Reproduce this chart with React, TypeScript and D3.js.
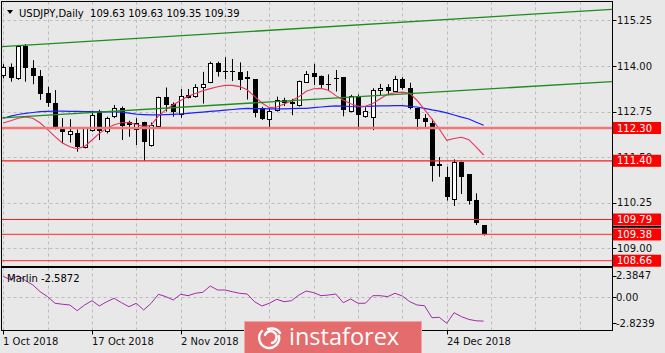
import React from "react";
import * as d3 from "d3";

// ---------- data ----------
const opens = [113.73,113.96,113.66,114.55,113.94,113.73,113.25,112.98,112.29,112.15,112.17,111.77,112.24,112.77,112.20,112.61,112.84,112.46,112.26,112.46,111.83,112.35,113.16,112.95,112.70,113.20,113.19,113.43,113.55,114.07,113.87,113.87,113.83,113.69,113.64,112.85,112.54,112.79,113.07,113.00,112.93,113.57,113.80,113.73,113.50,113.68,113.69,112.79,113.19,112.62,112.61,113.34,113.42,113.30,113.64,113.39,112.84,112.57,112.45,111.30,110.96,110.37,111.38,111.03,110.32,109.63];
const highs = [114.05,114.07,114.58,114.60,114.16,113.89,113.43,113.34,112.57,112.54,112.26,112.32,112.75,112.80,112.61,112.93,112.89,112.50,112.57,112.47,112.45,113.16,113.41,113.00,113.37,113.37,113.50,113.84,114.12,114.12,114.24,114.19,114.10,113.86,113.64,112.88,112.84,113.16,113.13,113.10,113.60,113.86,114.06,113.74,113.77,113.89,113.69,113.21,113.22,112.87,113.39,113.51,113.50,113.73,113.69,113.54,112.86,112.68,112.55,111.50,111.24,111.44,111.38,111.03,110.51,109.63];
const lows = [113.66,113.57,113.62,113.57,113.50,113.07,112.88,112.26,111.88,111.90,111.65,111.74,112.20,111.97,112.15,112.57,111.97,112.06,111.83,111.40,111.79,112.33,112.75,112.61,112.58,113.11,113.13,112.97,113.53,113.71,113.64,113.59,113.34,113.08,112.59,112.52,112.32,112.75,112.90,112.65,112.89,113.57,113.48,113.40,113.31,113.30,112.62,112.73,112.26,112.58,112.24,113.20,113.20,113.30,113.35,112.81,112.26,112.29,110.83,110.96,110.31,110.16,110.49,110.20,109.64,109.35];
const closes = [113.96,113.66,114.55,113.94,113.71,113.25,112.98,112.29,112.17,112.22,111.79,112.29,112.66,112.23,112.57,112.84,112.34,112.39,112.43,111.90,112.38,113.14,112.93,112.72,113.19,113.13,113.43,113.52,114.07,113.83,113.83,113.83,113.62,113.64,112.70,112.56,112.77,113.07,112.98,112.95,113.59,113.79,113.68,113.49,113.48,113.64,112.79,113.19,112.68,112.77,113.35,113.39,113.30,113.63,113.39,112.84,112.53,112.47,111.28,111.24,110.40,111.38,110.98,110.28,109.69,109.39];
const maFast = [112.437,112.497,112.566,112.601,112.566,112.437,112.256,112.061,111.888,111.787,111.732,111.795,111.970,112.151,112.289,112.390,112.445,112.442,112.398,112.338,112.374,112.634,112.804,112.936,113.054,113.169,113.246,113.320,113.380,113.430,113.468,113.468,113.435,113.347,113.169,112.985,112.859,112.875,112.961,113.048,113.155,113.309,113.375,113.386,113.334,113.188,113.070,112.966,112.895,112.895,112.974,113.103,113.227,113.268,113.284,113.251,113.054,112.804,112.541,112.272,111.962,112.012,112.047,111.981,111.773,111.559];
const maSlow = [112.566,112.626,112.670,112.703,112.725,112.747,112.758,112.766,112.763,112.758,112.755,112.749,112.747,112.744,112.741,112.741,112.736,112.705,112.678,112.667,112.659,112.659,112.667,112.675,112.686,112.703,112.719,112.736,112.755,112.771,112.790,112.807,112.826,112.837,112.832,112.829,112.823,112.823,112.826,112.832,112.837,112.840,112.859,112.875,112.895,112.908,112.900,112.889,112.875,112.889,112.900,112.906,112.908,112.911,112.911,112.895,112.875,112.840,112.799,112.763,112.714,112.656,112.598,112.546,112.459,112.374];
const marlin = [2.3,1.95,2.3847,1.85,1.37,0.63,0.09,-0.63,-0.74,-0.82,-1.44,-0.82,-0.35,-0.93,-0.46,-0.09,-0.57,-1.01,-0.63,-1.37,-0.63,0.35,0.09,-0.27,0.35,0.2,0.46,0.57,1.26,0.82,0.82,0.63,0.46,0.38,-0.46,-0.93,-0.63,-0.2,-0.46,-0.35,0.27,0.71,0.53,0.2,0.27,0.38,-0.57,-0.16,-0.63,-0.63,0.2,0.2,0.09,0.46,0.16,-0.46,-0.82,-0.9,-2.21,-2.17,-2.8239,-1.66,-2.1,-2.4,-2.55,-2.5872];

const priceTicks = [115.25, 114.0, 112.75, 111.5, 110.25, 109.0];
const marlinTicks = [2.3847, 0, -2.8239];
const dateTickIdx = [0, 12, 24, 60];
const dateTickLabels = ["1 Oct 2018", "17 Oct 2018", "2 Nov 2018", "24 Dec 2018"];
const hiddenTickIdx = [36, 48];
const levels = [112.3, 111.4, 109.79, 109.38, 108.66];
const channelUpperIdx = [0, 82];
const channelUpperPx = [114.532, 115.55];
const channelLowerIdx = [0, 82];
const channelLowerPx = [112.579, 113.569];
const titleText = "USDJPY,Daily  109.63 109.63 109.35 109.39";
const marlinTitle = "Marlin -2.5872";
const bannerText = "instaforex";

// ---------- layout ----------
const W = 665, H = 353;
const L = 1.5, R = 612.5, MT = 1.5, MB = 266.5, ST = 267.5, SB = 330.5;
const FONT = "'DejaVu Sans', Verdana, sans-serif";

const x = d3.scaleLinear().domain([0, 60]).range([3.3, 446.7]);
const y = d3.scaleLinear().domain([109, 114]).range([248.3, 66]);
const ys = d3.scaleLinear().domain([-2.8239, 2.3847]).range([323.3, 275.7]);

const levelStyles = [
  { c: "#f07878", w: 2.6 },
  { c: "#ff1a1a", w: 1.2 },
  { c: "#ff1a1a", w: 1.2 },
  { c: "#ff4d4d", w: 1.2 },
  { c: "#ff4d4d", w: 1.2 },
];

export default function App() {
  const lineMain = d3.line<number>().x((_, i) => x(i)).y((d) => y(d));
  const lineSub = d3.line<number>().x((_, i) => x(i)).y((d) => ys(d));
  const gridIdx = d3.range(0, 84, 6);

  const chan = (idx: number[], px: number[]) => {
    const s = d3.scaleLinear().domain(idx).range(px);
    const a = -2, b = 84;
    return { x1: x(a), y1: y(s(a)), x2: x(b), y2: y(s(b)) };
  };
  const up = chan(channelUpperIdx, channelUpperPx);
  const lo = chan(channelLowerIdx, channelLowerPx);

  return (
    <svg width={W} height={H} style={{ position: "fixed", left: 0, top: 0 }} fontFamily={FONT}>
      <defs>
        <clipPath id="mainClip"><rect x={L + 0.5} y={MT + 0.5} width={R - L - 1} height={MB - MT - 1} /></clipPath>
        <clipPath id="subClip"><rect x={L + 0.5} y={ST + 0.5} width={R - L - 1} height={SB - ST - 1} /></clipPath>
      </defs>
      <rect x={0} y={0} width={W} height={H} fill="#e8e8e8" />

      {/* grid main */}
      <g stroke="#bcbcbc" strokeDasharray="3,3" strokeWidth={1} clipPath="url(#mainClip)">
        {gridIdx.map((i) => (
          <line key={"gv" + i} x1={Math.round(x(i)) + 0.5} x2={Math.round(x(i)) + 0.5} y1={MT} y2={MB} />
        ))}
        {priceTicks.map((p) => (
          <line key={"gh" + p} x1={L} x2={R} y1={Math.round(y(p)) + 0.5} y2={Math.round(y(p)) + 0.5} />
        ))}
      </g>
      {/* grid sub */}
      <g stroke="#bcbcbc" strokeDasharray="3,3" strokeWidth={1} clipPath="url(#subClip)">
        {gridIdx.map((i) => (
          <line key={"sv" + i} x1={Math.round(x(i)) + 0.5} x2={Math.round(x(i)) + 0.5} y1={ST} y2={SB} />
        ))}
        <line x1={L} x2={R} y1={Math.round(ys(0)) + 0.5} y2={Math.round(ys(0)) + 0.5} />
      </g>

      {/* candles */}
      <g clipPath="url(#mainClip)">
        {opens.map((o, i) => {
          const c = closes[i];
          const cx = Math.round(x(i)) + 0.5;
          const top = y(Math.max(o, c));
          const bot = y(Math.min(o, c));
          const bull = c > o;
          return (
            <g key={"c" + i}>
              <line x1={cx} x2={cx} y1={y(highs[i])} y2={y(lows[i])} stroke="#000" strokeWidth={1} />
              {bull ? (
                <rect x={cx - 2} y={Math.round(top) + 0.5} width={4} height={Math.max(1, Math.round(bot - top))} fill="#fff" stroke="#000" strokeWidth={1} />
              ) : (
                <rect x={cx - 2.5} y={Math.round(top)} width={5} height={Math.max(1, Math.round(bot - top))} fill="#000" />
              )}
            </g>
          );
        })}
      </g>

      {/* indicator lines and objects */}
      <g clipPath="url(#mainClip)" fill="none">
        <path d={lineMain(maSlow) || ""} stroke="#1f1fff" strokeWidth={1.2} />
        <path d={lineMain(maFast) || ""} stroke="#e8365d" strokeWidth={1.1} />
        <line {...up} stroke="#1e8c1e" strokeWidth={1.3} />
        <line {...lo} stroke="#1e8c1e" strokeWidth={1.3} />
        {levels.map((p, k) => (
          <line key={"lv" + k} x1={L} x2={R} y1={y(p)} y2={y(p)} stroke={levelStyles[k].c} strokeWidth={levelStyles[k].w} />
        ))}
      </g>

      {/* sub-window line */}
      <g clipPath="url(#subClip)">
        <path d={lineSub(marlin) || ""} fill="none" stroke="#a22ba8" strokeWidth={1} />
      </g>

      {/* frames */}
      <rect x={L} y={MT} width={R - L} height={MB - MT} fill="none" stroke="#000" strokeWidth={1} />
      <rect x={L} y={ST} width={R - L} height={SB - ST} fill="none" stroke="#000" strokeWidth={1} />

      {/* right axis */}
      <g fontSize={10} fill="#111">
        {priceTicks.map((p) => (
          <g key={"pt" + p}>
            <line x1={R} x2={R + 4} y1={Math.round(y(p)) + 0.5} y2={Math.round(y(p)) + 0.5} stroke="#000" />
            <text x={617} y={y(p)} dy="0.35em">{p.toFixed(2)}</text>
          </g>
        ))}
        {marlinTicks.map((v) => (
          <g key={"mt" + v}>
            <line x1={R} x2={R + 4} y1={Math.round(ys(v)) + 0.5} y2={Math.round(ys(v)) + 0.5} stroke="#000" />
            <text x={616} y={ys(v)} dy="0.35em">{v === 0 ? "0.00" : v.toFixed(4)}</text>
          </g>
        ))}
      </g>

      {/* bid marker */}
      <rect x={613} y={225.8} width={48} height={2} fill="#000" />
      {/* level labels */}
      <g fontSize={10}>
        {levels.map((p, k) => (
          <g key={"lb" + k}>
            <rect x={613} y={y(p) - 6} width={48} height={12} fill="#ff0000" />
            <text x={617} y={y(p)} dy="0.36em" fill="#fff">{p.toFixed(2)}</text>
          </g>
        ))}
      </g>

      {/* bottom axis */}
      <g fontSize={10} fill="#111">
        {dateTickIdx.map((i, k) => (
          <g key={"dt" + i}>
            <line x1={Math.round(x(i)) + 0.5} x2={Math.round(x(i)) + 0.5} y1={SB} y2={SB + 4} stroke="#000" />
            <text x={Math.round(x(i))} y={345}>{dateTickLabels[k]}</text>
          </g>
        ))}
        {hiddenTickIdx.map((i) => (
          <line key={"ht" + i} x1={Math.round(x(i)) + 0.5} x2={Math.round(x(i)) + 0.5} y1={SB} y2={SB + 4} stroke="#000" />
        ))}
      </g>

      {/* titles */}
      <polygon points="7,10 13,10 10,14" fill="#000" />
      <text x={19} y={17} fontSize={10} fill="#000" style={{ whiteSpace: "pre" }}>{titleText}</text>
      <text x={7} y={282} fontSize={10} fill="#000">{marlinTitle}</text>

      {/* banner */}
      <g>
        <rect x={244.5} y={321.5} width={177} height={33} fill="#e46c6c" stroke="#f3a5a5" strokeWidth={1} />
        <g fill="none" stroke="#fff" strokeWidth={2.4} strokeLinecap="round">
          <path d="M 262 331 A 10 10 0 1 0 279 336" />
          <path d="M 265 335 A 6 6 0 1 1 272 343" />
          <path d="M 268 329 Q 276 327 280 333" />
        </g>
        <text x={289} y={345} fontSize={23.5} fill="#fff" fontFamily="'Open Sans', sans-serif">{bannerText}</text>
      </g>
    </svg>
  );
}
